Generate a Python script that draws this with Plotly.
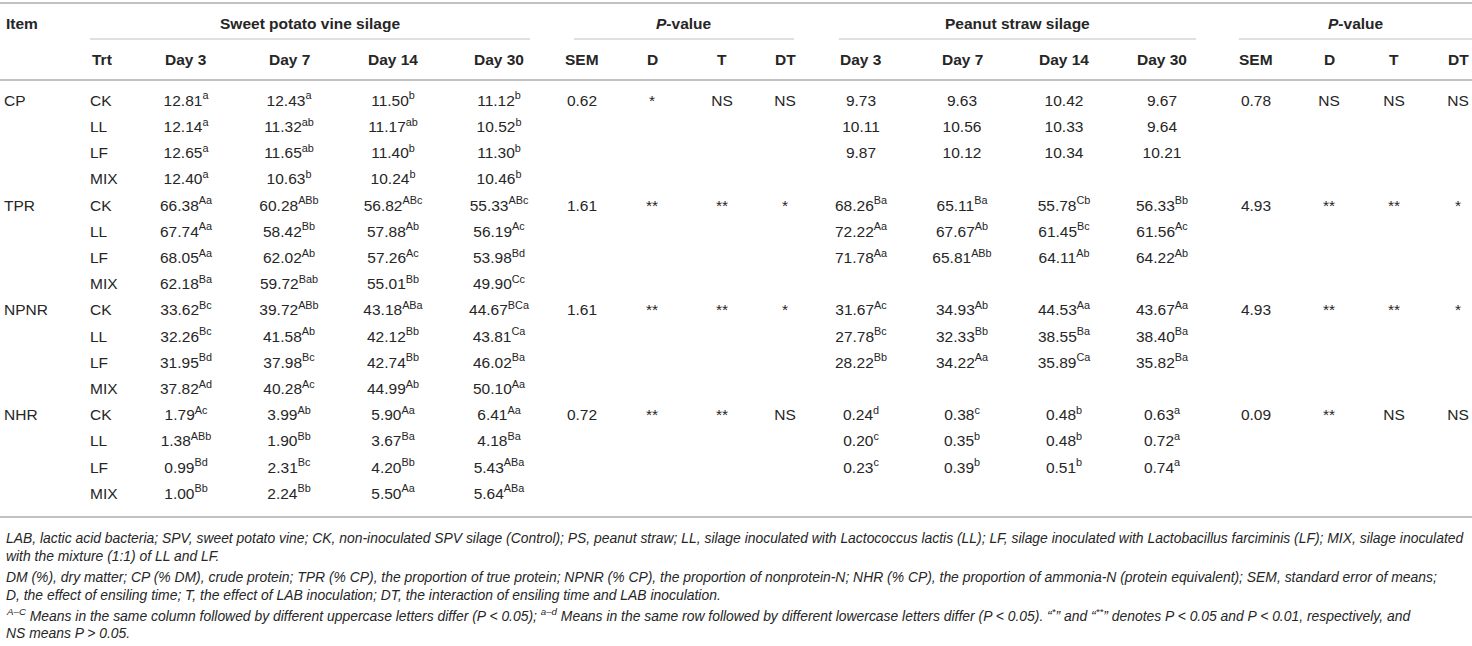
import plotly.graph_objects as go

# ---------- data ----------
items = ["CP", "TPR", "NPNR", "NHR"]
trts = ["CK", "LL", "LF", "MIX"]

# sweet potato vine silage (16 rows: item x trt)
spv_d3 = [12.81, 12.14, 12.65, 12.40, 66.38, 67.74, 68.05, 62.18,
          33.62, 32.26, 31.95, 37.82, 1.79, 1.38, 0.99, 1.00]
spv_d3_sup = ["a", "a", "a", "a", "Aa", "Aa", "Aa", "Ba",
              "Bc", "Bc", "Bd", "Ad", "Ac", "ABb", "Bd", "Bb"]
spv_d7 = [12.43, 11.32, 11.65, 10.63, 60.28, 58.42, 62.02, 59.72,
          39.72, 41.58, 37.98, 40.28, 3.99, 1.90, 2.31, 2.24]
spv_d7_sup = ["a", "ab", "ab", "b", "ABb", "Bb", "Ab", "Bab",
              "ABb", "Ab", "Bc", "Ac", "Ab", "Bb", "Bc", "Bb"]
spv_d14 = [11.50, 11.17, 11.40, 10.24, 56.82, 57.88, 57.26, 55.01,
           43.18, 42.12, 42.74, 44.99, 5.90, 3.67, 4.20, 5.50]
spv_d14_sup = ["b", "ab", "b", "b", "ABc", "Ab", "Ac", "Bb",
               "ABa", "Bb", "Bb", "Ab", "Aa", "Ba", "Bb", "Aa"]
spv_d30 = [11.12, 10.52, 11.30, 10.46, 55.33, 56.19, 53.98, 49.90,
           44.67, 43.81, 46.02, 50.10, 6.41, 4.18, 5.43, 5.64]
spv_d30_sup = ["b", "b", "b", "b", "ABc", "Ac", "Bd", "Cc",
               "BCa", "Ca", "Ba", "Aa", "Aa", "Ba", "ABa", "ABa"]
spv_sem = [0.62, 1.61, 1.61, 0.72]
spv_d = ["*", "**", "**", "**"]
spv_t = ["NS", "**", "**", "**"]
spv_dt = ["NS", "*", "*", "NS"]

# peanut straw silage (only three rows per item, MIX row empty)
ps_d3 = [9.73, 10.11, 9.87, None, 68.26, 72.22, 71.78, None,
         31.67, 27.78, 28.22, None, 0.24, 0.20, 0.23, None]
ps_d3_sup = ["", "", "", "", "Ba", "Aa", "Aa", "",
             "Ac", "Bc", "Bb", "", "d", "c", "c", ""]
ps_d7 = [9.63, 10.56, 10.12, None, 65.11, 67.67, 65.81, None,
         34.93, 32.33, 34.22, None, 0.38, 0.35, 0.39, None]
ps_d7_sup = ["", "", "", "", "Ba", "Ab", "ABb", "",
             "Ab", "Bb", "Aa", "", "c", "b", "b", ""]
ps_d14 = [10.42, 10.33, 10.34, None, 55.78, 61.45, 64.11, None,
          44.53, 38.55, 35.89, None, 0.48, 0.48, 0.51, None]
ps_d14_sup = ["", "", "", "", "Cb", "Bc", "Ab", "",
              "Aa", "Ba", "Ca", "", "b", "b", "b", ""]
ps_d30 = [9.67, 9.64, 10.21, None, 56.33, 61.56, 64.22, None,
          43.67, 38.40, 35.82, None, 0.63, 0.72, 0.74, None]
ps_d30_sup = ["", "", "", "", "Bb", "Ac", "Ab", "",
              "Aa", "Ba", "Ba", "", "a", "a", "a", ""]
ps_sem = [0.78, 4.93, 4.93, 0.09]
ps_d = ["NS", "**", "**", "**"]
ps_t = ["NS", "**", "**", "NS"]
ps_dt = ["NS", "*", "*", "NS"]

group_heads = ["Sweet potato vine silage", "<i>P</i>-value",
               "Peanut straw silage", "<i>P</i>-value"]
col_heads = ["Trt", "Day 3", "Day 7", "Day 14", "Day 30", "SEM", "D", "T", "DT",
             "Day 3", "Day 7", "Day 14", "Day 30", "SEM", "D", "T", "DT"]

footnotes = [
    "LAB, lactic acid bacteria; SPV, sweet potato vine; CK, non-inoculated SPV silage (Control); PS, peanut straw; "
    "LL, silage inoculated with Lactococcus lactis (LL); LF, silage inoculated with Lactobacillus farciminis (LF); MIX, silage inoculated",
    "with the mixture (1:1) of LL and LF.",
    "DM (%), dry matter; CP (% DM), crude protein; TPR (% CP), the proportion of true protein; NPNR (% CP), the proportion of "
    "nonprotein-N; NHR (% CP), the proportion of ammonia-N (protein equivalent); SEM, standard error of means;",
    "D, the effect of ensiling time; T, the effect of LAB inoculation; DT, the interaction of ensiling time and LAB inoculation.",
    "<sup>A\u2013C</sup> Means in the same column followed by different uppercase letters differ (P < 0.05); "
    "<sup>a\u2013d</sup> Means in the same row followed by different lowercase letters differ (P < 0.05). "
    "\u201c<sup>*</sup>\u201d and \u201c<sup>**</sup>\u201d denotes P < 0.05 and P < 0.01, respectively, and",
    "NS means P > 0.05.",
]

# ---------- layout ----------
W, H = 1472, 646
FONT = "Liberation Sans, Arial, sans-serif"
TXT = "#262626"
RULE = "#c2c2c2"
FS = 15.5
FS_FOOT = 13.9

X_ITEM, X_TRT = 4, 90
X_COLS = [186, 289, 393, 499, 582, 652, 722, 785,
          861, 962, 1064, 1162, 1256, 1329, 1394, 1458]
Y_TOP, Y_HEAD1, Y_SUB, Y_HEAD2, Y_HLINE = 3, 23, 39, 59, 80
ROW0, ROWH = 102, 26.2
Y_BOTTOM = 517
FOOT_Y = [538, 556, 577, 595, 615, 633]
SPANS = [(X_TRT, 530), (574, 794), (839, 1196), (1239, W)]


def fmt(vals, sups):
    return ["" if v is None else f"{v:.2f}" + (f"<sup>{s}</sup>" if s else "")
            for v, s in zip(vals, sups)]


def stat_col(vals):
    # stats only on the first (CK) row of each item
    out = []
    for v in vals:
        out += [v if isinstance(v, str) else f"{v:.2f}", "", "", ""]
    return out


row_y = [ROW0 + i * ROWH for i in range(len(items) * len(trts))]
item_col = []
for it in items:
    item_col += [it, "", "", ""]
trt_col = trts * len(items)

body_cols = [
    fmt(spv_d3, spv_d3_sup), fmt(spv_d7, spv_d7_sup), fmt(spv_d14, spv_d14_sup), fmt(spv_d30, spv_d30_sup),
    stat_col(spv_sem), stat_col(spv_d), stat_col(spv_t), stat_col(spv_dt),
    fmt(ps_d3, ps_d3_sup), fmt(ps_d7, ps_d7_sup), fmt(ps_d14, ps_d14_sup), fmt(ps_d30, ps_d30_sup),
    stat_col(ps_sem), stat_col(ps_d), stat_col(ps_t), stat_col(ps_dt),
]

fig = go.Figure()
txtfont = dict(family=FONT, size=FS, color=TXT)


def add_col(x, texts, pos):
    keep = [(y, t) for y, t in zip(row_y, texts) if t]
    fig.add_trace(go.Scatter(x=[x] * len(keep), y=[k[0] for k in keep], text=[k[1] for k in keep],
                             mode="text", textposition=pos, textfont=txtfont))


add_col(X_ITEM, item_col, "middle right")
add_col(X_TRT, trt_col, "middle right")
for cx, col in zip(X_COLS, body_cols):
    add_col(cx, col, "middle center")

# header and footnote texts
anns = [dict(x=X_ITEM, y=Y_HEAD1, text="<b>Item</b>", xanchor="left")]
for (a, b), g in zip(SPANS, group_heads):
    anns.append(dict(x=(a + b) / 2, y=Y_HEAD1, text=f"<b>{g}</b>", xanchor="center"))
anns.append(dict(x=X_TRT, y=Y_HEAD2, text=f"<b>{col_heads[0]}</b>", xanchor="left"))
for cx, h in zip(X_COLS, col_heads[1:]):
    anns.append(dict(x=cx, y=Y_HEAD2, text=f"<b>{h}</b>", xanchor="center"))
for a in anns:
    a["font"] = dict(family=FONT, size=FS, color=TXT)
for fy, ft in zip(FOOT_Y, footnotes):
    anns.append(dict(x=X_ITEM, y=fy, text=f"<i>{ft}</i>", xanchor="left",
                     font=dict(family=FONT, size=FS_FOOT, color=TXT)))
for a in anns:
    a.update(xref="x", yref="y", yanchor="middle", showarrow=False)

# horizontal rules
shapes = [dict(type="line", x0=0, x1=W, y0=y, y1=y, line=dict(color=RULE, width=2))
          for y in (Y_TOP, Y_HLINE, Y_BOTTOM)]
for a, b in SPANS:
    shapes.append(dict(type="line", x0=a, x1=b, y0=Y_SUB, y1=Y_SUB, line=dict(color=RULE, width=1.2)))
for s in shapes:
    s.update(xref="x", yref="y", layer="below")

fig.update_layout(
    width=W, height=H,
    margin=dict(l=0, r=0, t=0, b=0),
    paper_bgcolor="white", plot_bgcolor="white",
    showlegend=False, hovermode=False,
    annotations=anns, shapes=shapes,
    xaxis=dict(range=[0, W], visible=False, fixedrange=True),
    yaxis=dict(range=[H, 0], visible=False, fixedrange=True),
)

fig.write_html("out.html", config={"displayModeBar": False},
               post_script="document.body.style.margin='0';document.body.style.overflow='hidden';")
